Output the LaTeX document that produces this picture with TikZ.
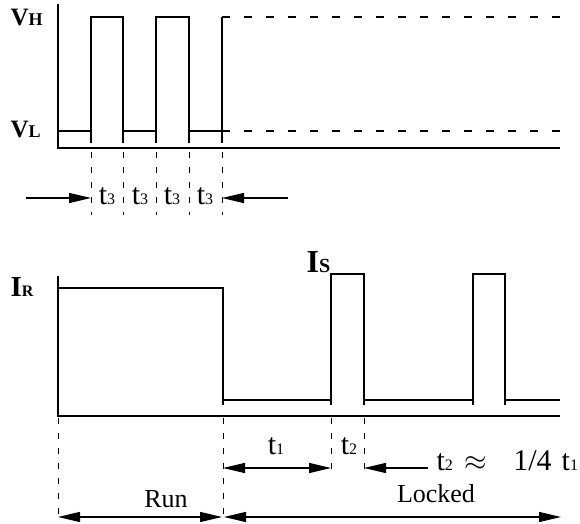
\documentclass[tikz,border=0pt]{standalone}
\usepackage{fontspec}
\setmainfont{Liberation Serif}
\usetikzlibrary{arrows.meta,positioning}
\newcommand{\tsub}[2]{{\fontsize{15}{16}\selectfont #1}{\fontsize{8}{9}\selectfont #2}}

\begin{document}
\begin{tikzpicture}[x=0.5pt,y=-0.5pt,line width=0.6pt,
	>={Triangle[length=11pt,width=5pt]},
	level/.style={dash pattern=on 4pt off 7pt},
	guide/.style={line width=0.45pt,dash pattern=on 3pt off 4.5pt},
	axlab/.style={inner sep=0pt,anchor=base west,font=\bfseries},
	dim/.style={inner sep=0pt,font=\fontsize{13}{15}\selectfont}]
	\useasboundingbox (0,0) rectangle (580,524);
	% voltage
	\draw (58,4) -- (58,148) -- (560,148);
	\draw (58,131) -- (91,131) (123,131) -- (156,131) (189,131) -- (222,131);
	\foreach \x/\y in {91/123,156/189}
		\draw (\x,143) -- (\x,17) -- (\y,17) -- (\y,143);
	\draw (222,143) -- (222,17);
	\draw[level] (222,17) -- (560,17) (222,131) -- (560,131);
	\node[axlab] (vh) at (10,26) {{\fontsize{12.5}{13}\selectfont V}{\fontsize{9}{10}\selectfont H}};
	\node[axlab] (vl) at (10,138) {{\fontsize{12.5}{13}\selectfont V}{\fontsize{9}{10}\selectfont L}};
	\foreach \x [count=\i] in {91,123,156,189,222} {
		\draw[guide] (\x,152) -- (\x,215);
		\coordinate (k\i) at (\x,198);
	}
	\foreach \x in {107,140,172,205}
		\node[dim] at (\x,196) {\tsub{t}{3}};
	\coordinate (la) at (26,198);
	\coordinate (ra) at (288,198);
	\draw[->] (la) -- (k1);
	\draw[->] (ra) -- (k5);
	% current
	\draw (58,276) -- (58,416) -- (560,416);
	\draw (58,288) -- (223,288) -- (223,405);
	\draw (223,400) -- (331,400) (364,400) -- (473,400) (505,400) -- (560,400);
	\foreach \x/\y in {331/364,473/505}
		\draw (\x,405) -- (\x,274) -- (\y,274) -- (\y,405);
	\node[axlab] (ir) at (10,297) {{\fontsize{14.5}{15}\selectfont I}{\fontsize{8}{9}\selectfont R}};
	\node[axlab] (is) at (306,273) {{\fontsize{16}{17}\selectfont I}{\fontsize{10}{11}\selectfont S}};
	\draw[guide] (58,418) -- (58,522) (223,418) -- (223,515)
		(331,418) -- (331,472) (364,418) -- (364,472);
	\coordinate (p0) at (58,517);
	\coordinate (p1) at (222,517);
	\coordinate (p2) at (224,517);
	\coordinate (p3) at (561,517);
	\coordinate (q1) at (223,468);
	\coordinate (q2) at (331,468);
	\coordinate (q3) at (364,468);
	\coordinate (q4) at (428,468);
	\draw[<->] (p0) -- (p1);
	\draw[<->] (p2) -- (p3);
	\draw[<->] (q1) -- (q2);
	\draw[<-] (q3) -- (q4);
	\node[dim] (t1) at (276,446) {\tsub{t}{1}};
	\node[dim] (t2) at (349,446) {\tsub{t}{2}};
	\node[dim,anchor=base west] (ratio) at (436,471)
		{\tsub{t}{2}\hspace{6pt}{\fontsize{15}{15}\selectfont$\approx$}\hspace{13pt}{\fontsize{15}{16}\selectfont 1/4}\hspace{5pt}\tsub{t}{1}};
	\node[dim,anchor=base] (run) at (166,508) {Run};
	\node[dim,anchor=base] (lock) at (436,503) {Locked};
\end{tikzpicture}
\end{document}
